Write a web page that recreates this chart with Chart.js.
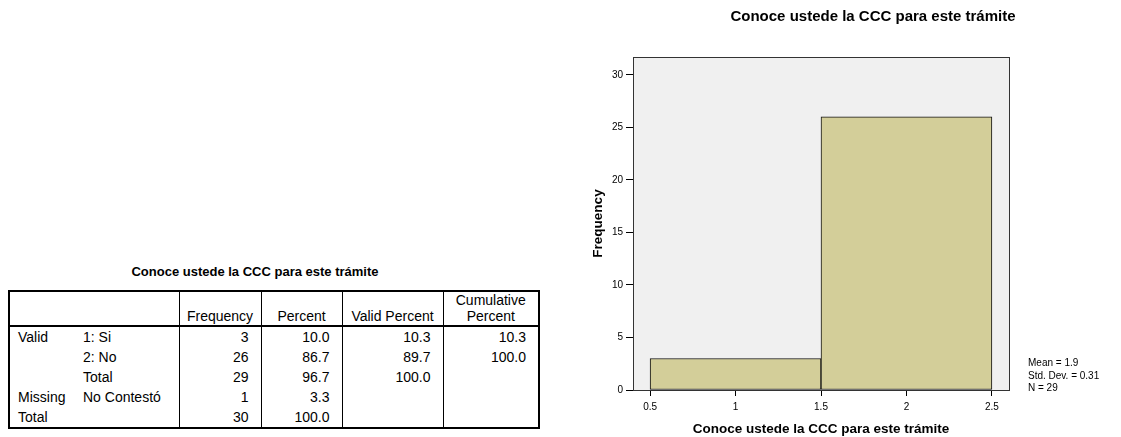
<!DOCTYPE html>
<html>
<head>
<meta charset="utf-8">
<script src="https://cdn.jsdelivr.net/npm/chart.js@4.4.0/dist/chart.umd.min.js"></script>
<style>
html, body { margin: 0; padding: 0; width: 1121px; height: 437px; overflow: hidden; background: #fff; font-family: Arial, "Liberation Sans", sans-serif; color: #000; }
#tableTitle { position: absolute; left: 0; width: 510px; top: 264px; line-height: 16px; text-align: center; font-weight: bold; font-size: 13px; }
table.freq { position: absolute; left: 8px; top: 290px; width: 531px; border-collapse: collapse; border: 2px solid #000; font-size: 14px; table-layout: fixed; }
table.freq th { font-weight: normal; vertical-align: bottom; text-align: center; line-height: 16px; height: 32px; padding: 0 2px 1px 2px; border-bottom: 2px solid #000; }
table.freq td { line-height: 20px; height: 20px; padding: 0 2px 0 8px; white-space: nowrap; }
table.freq td.num { text-align: right; padding-right: 12px; }
table.freq .vl { border-left: 1px solid #000; }
#chartBox { position: absolute; left: 580px; top: 0; width: 586px; height: 437px; }
#stats { position: absolute; left: 1028px; top: 357px; font-size: 10px; line-height: 12.5px; }
</style>
</head>
<body>
<div id="tableTitle">Conoce ustede la CCC para este trámite</div>
<table class="freq" id="freqTable"></table>
<div id="chartBox"><canvas id="hist"></canvas></div>
<div id="stats">Mean = 1.9<br>Std. Dev. = 0.31<br>N = 29</div>
<script>
// frequency table
const colWidths = [66, 104, 82, 81, 101, 96];
const headers = ['', '', 'Frequency', 'Percent', 'Valid Percent', 'Cumulative<br>Percent'];
const groupLabels = ['Valid', '', '', 'Missing', 'Total'];
const valueLabels = ['1: Si', '2: No', 'Total', 'No Contestó', ''];
const frequency = ['3', '26', '29', '1', '30'];
const percent = ['10.0', '86.7', '96.7', '3.3', '100.0'];
const validPercent = ['10.3', '89.7', '100.0', '', ''];
const cumPercent = ['10.3', '100.0', '', '', ''];

// histogram
const binCenters = [1, 2];
const binCounts = [3, 26];
const xTicks = [0.5, 1, 1.5, 2, 2.5];
const yTicks = [0, 5, 10, 15, 20, 25, 30];
const xMin = 0.4, xMax = 2.6, yMax = 31.7;
const chartTitle = 'Conoce ustede la CCC para este trámite';

let html = '<colgroup>' + colWidths.map(w => '<col style="width:' + w + 'px">').join('') + '</colgroup>';
html += '<tr>' + headers.map((h, i) => '<th' + (i >= 2 ? ' class="vl"' : '') + '>' + h + '</th>').join('') + '</tr>';
for (let i = 0; i < groupLabels.length; i++) {
    html += '<tr><td>' + groupLabels[i] + '</td><td>' + valueLabels[i] + '</td>'
        + '<td class="num vl">' + frequency[i] + '</td>'
        + '<td class="num vl">' + percent[i] + '</td>'
        + '<td class="num vl">' + validPercent[i] + '</td>'
        + '<td class="num vl">' + cumPercent[i] + '</td></tr>';
}
document.querySelector('#freqTable').innerHTML = html;

Chart.defaults.font.family = 'Arial, "Liberation Sans", sans-serif';
Chart.defaults.color = '#000';

const plotFrame = {
    id: 'plotFrame',
    beforeDraw(chart) {
        const {ctx, chartArea: a} = chart;
        ctx.save();
        ctx.fillStyle = '#f0f0f0';
        ctx.fillRect(a.left, a.top, a.right - a.left, a.bottom - a.top);
        ctx.restore();
    },
    afterDatasetsDraw(chart) {
        const {ctx, chartArea: a} = chart;
        ctx.save();
        ctx.strokeStyle = '#333';
        ctx.lineWidth = 1;
        ctx.strokeRect(Math.round(a.left) + 0.5, Math.round(a.top) + 0.5, Math.round(a.right - a.left), Math.round(a.bottom - a.top));
        ctx.restore();
    }
};

new Chart(document.querySelector('#hist').getContext('2d'), {
    type: 'bar',
    data: {
        datasets: [{
            data: binCenters.map((x, i) => ({x: x, y: binCounts[i]})),
            backgroundColor: 'rgb(211, 206, 153)',
            borderColor: '#111',
            borderWidth: 1,
            borderSkipped: false,
            barThickness: 'flex',
            categoryPercentage: 1,
            barPercentage: 1
        }]
    },
    options: {
        responsive: true,
        maintainAspectRatio: false,
        animation: false,
        layout: { padding: 0 },
        plugins: {
            legend: { display: false },
            tooltip: { enabled: false },
            title: {
                display: true,
                text: chartTitle,
                font: { size: 15, weight: 'bold' },
                color: '#000',
                padding: { top: 8, bottom: 31 }
            }
        },
        scales: {
            x: {
                type: 'linear',
                offset: false,
                min: xMin,
                max: xMax,
                afterBuildTicks: s => { s.ticks = xTicks.map(v => ({value: v})); },
                afterFit: s => { s.height = 47; },
                ticks: { font: { size: 10 }, color: '#000', padding: 5, maxRotation: 0, callback: v => String(v) },
                grid: { offset: false, drawOnChartArea: false, tickLength: 6, color: '#000' },
                border: { color: '#000' },
                title: { display: true, text: chartTitle, font: { size: 13.5, weight: 'bold' }, color: '#000', padding: { top: 0, bottom: 0 } }
            },
            y: {
                type: 'linear',
                min: 0,
                max: yMax,
                afterBuildTicks: s => { s.ticks = yTicks.map(v => ({value: v})); },
                afterFit: s => { s.width = 53; },
                ticks: { font: { size: 10 }, color: '#000', padding: 3, callback: v => String(v) },
                grid: { drawOnChartArea: false, tickLength: 7, color: '#000' },
                border: { color: '#000' },
                title: { display: true, text: 'Frequency', font: { size: 13.5, weight: 'bold' }, color: '#000', padding: { top: 10, bottom: 0 } }
            },
            // empty right-hand box, keeps the plot narrow while the title spans the full width
            side: {
                type: 'linear',
                position: 'right',
                afterFit: s => { s.width = 157; },
                ticks: { display: false },
                grid: { display: false },
                border: { display: false }
            }
        }
    },
    plugins: [plotFrame]
});
</script>
</body>
</html>
